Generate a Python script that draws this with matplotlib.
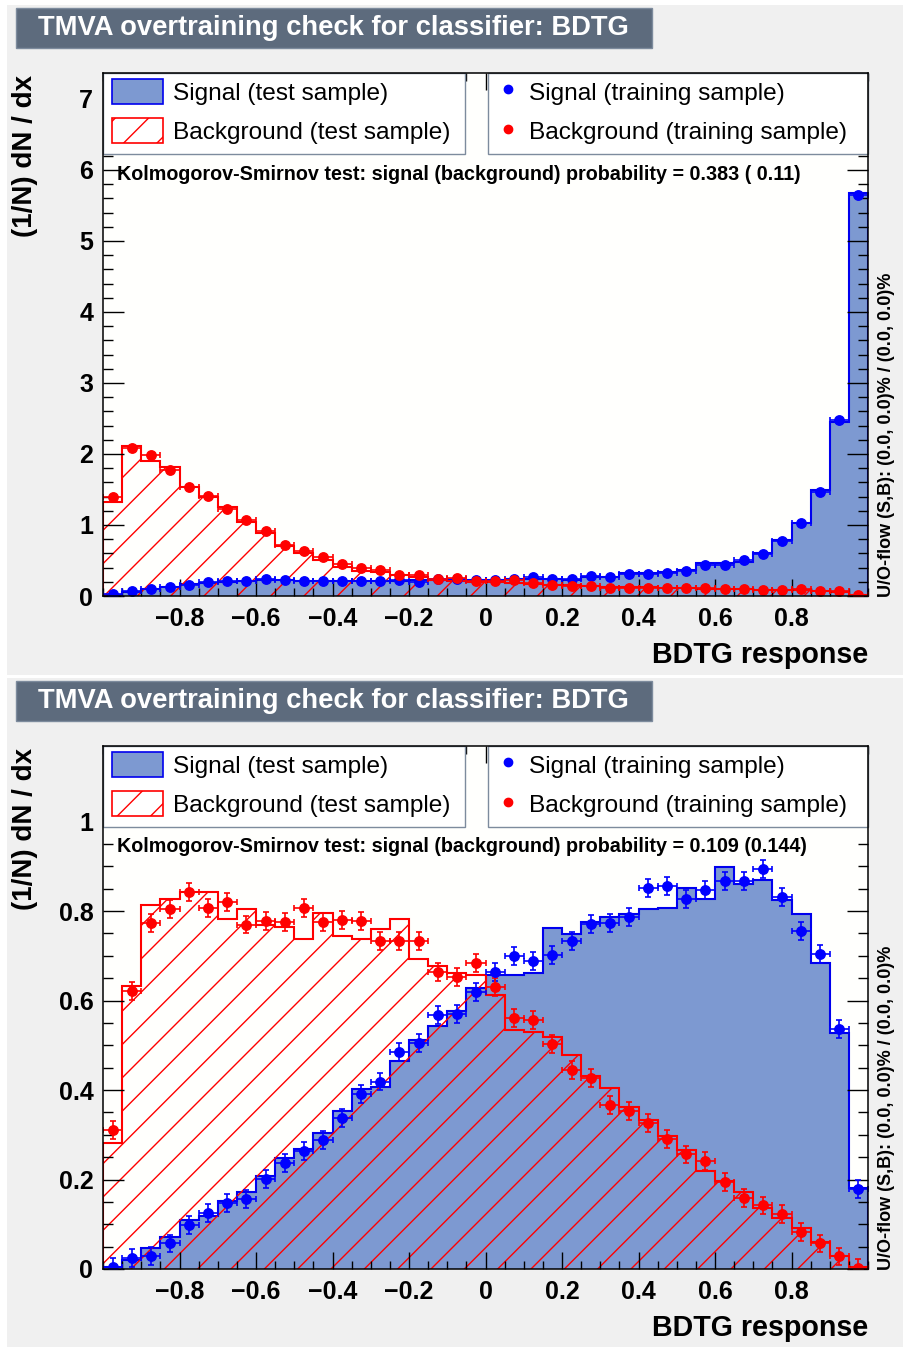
import numpy as np
import matplotlib.pyplot as plt
from matplotlib.patches import Rectangle, Patch
from matplotlib.lines import Line2D
from matplotlib.ticker import MultipleLocator, FuncFormatter

plt.rcParams['font.family'] = ['Liberation Sans', 'DejaVu Sans']
plt.rcParams['hatch.linewidth'] = 1.0

# 40 bins of BDTG response between -1 and 1
edges = np.linspace(-1, 1, 41)
centers = 0.5 * (edges[1:] + edges[:-1])

# ---- top panel: (1/N) dN/dx per bin ----
sig_test_top = [0.014, 0.060, 0.094, 0.122, 0.164, 0.188, 0.200, 0.210, 0.220, 0.220,
                0.205, 0.205, 0.205, 0.205, 0.205, 0.210, 0.220, 0.220, 0.220, 0.220,
                0.225, 0.235, 0.240, 0.240, 0.225, 0.263, 0.263, 0.329, 0.329, 0.343,
                0.366, 0.460, 0.460, 0.484, 0.610, 0.789, 1.023, 1.493, 2.455, 5.671]
bkg_test_top = [1.330, 2.110, 1.900, 1.820, 1.530, 1.390, 1.258, 1.040, 0.890, 0.710,
                0.600, 0.507, 0.413, 0.357, 0.343, 0.296, 0.272, 0.225, 0.216, 0.202,
                0.200, 0.190, 0.175, 0.160, 0.150, 0.140, 0.130, 0.125, 0.120, 0.115,
                0.110, 0.105, 0.100, 0.095, 0.090, 0.085, 0.080, 0.070, 0.060, 0.012]
sig_train_top = [0.025, 0.064, 0.094, 0.129, 0.160, 0.197, 0.210, 0.216, 0.235, 0.230,
                 0.211, 0.211, 0.211, 0.211, 0.211, 0.225, 0.200, 0.235, 0.235, 0.220,
                 0.225, 0.239, 0.263, 0.239, 0.245, 0.282, 0.268, 0.305, 0.312, 0.329,
                 0.357, 0.435, 0.437, 0.507, 0.598, 0.777, 1.033, 1.467, 2.485, 5.648]
bkg_train_top = [1.399, 2.080, 1.983, 1.772, 1.540, 1.406, 1.223, 1.070, 0.915, 0.723,
                 0.638, 0.554, 0.451, 0.395, 0.362, 0.291, 0.296, 0.235, 0.249, 0.216,
                 0.218, 0.225, 0.188, 0.155, 0.141, 0.141, 0.117, 0.117, 0.117, 0.117,
                 0.108, 0.108, 0.094, 0.099, 0.085, 0.085, 0.094, 0.075, 0.070, 0.014]
err_top = 0.02

# ---- bottom panel ----
sig_test_bot = [0.005, 0.020, 0.046, 0.071, 0.110, 0.119, 0.152, 0.173, 0.208, 0.248,
                0.268, 0.304, 0.354, 0.402, 0.407, 0.466, 0.511, 0.543, 0.576, 0.628,
                0.657, 0.658, 0.661, 0.763, 0.749, 0.776, 0.787, 0.793, 0.804, 0.806,
                0.852, 0.827, 0.899, 0.860, 0.869, 0.825, 0.793, 0.685, 0.528, 0.180]
bkg_test_bot = [0.281, 0.632, 0.813, 0.828, 0.843, 0.843, 0.783, 0.805, 0.769, 0.765,
                0.737, 0.796, 0.744, 0.738, 0.759, 0.783, 0.694, 0.677, 0.662, 0.658,
                0.612, 0.534, 0.529, 0.518, 0.478, 0.431, 0.404, 0.361, 0.333, 0.297,
                0.266, 0.218, 0.197, 0.173, 0.136, 0.113, 0.091, 0.061, 0.030, 0.005]
sig_train_bot = [0.005, 0.025, 0.030, 0.057, 0.098, 0.125, 0.147, 0.157, 0.201, 0.237,
                 0.264, 0.289, 0.337, 0.391, 0.419, 0.485, 0.505, 0.568, 0.569, 0.619,
                 0.663, 0.699, 0.688, 0.701, 0.733, 0.771, 0.774, 0.787, 0.852, 0.856,
                 0.827, 0.847, 0.867, 0.868, 0.895, 0.831, 0.755, 0.705, 0.536, 0.179]
bkg_train_bot = [0.311, 0.622, 0.774, 0.805, 0.843, 0.807, 0.820, 0.770, 0.778, 0.775,
                 0.807, 0.776, 0.781, 0.778, 0.734, 0.734, 0.733, 0.664, 0.652, 0.684,
                 0.631, 0.562, 0.556, 0.502, 0.445, 0.426, 0.366, 0.353, 0.327, 0.291,
                 0.256, 0.241, 0.194, 0.158, 0.142, 0.123, 0.083, 0.057, 0.028, 0.003]
err_bot = 0.02

title = "TMVA overtraining check for classifier: BDTG"
ks_top = "Kolmogorov-Smirnov test: signal (background) probability = 0.383 ( 0.11)"
ks_bot = "Kolmogorov-Smirnov test: signal (background) probability = 0.109 (0.144)"
uoflow = "U/O-flow (S,B): (0.0, 0.0)% / (0.0, 0.0)%"

W, H = 905, 1347
fig = plt.figure(figsize=(W / 100, H / 100), dpi=100, facecolor='white')


def fbox(x0, y0, x1, y1):
    # pixel box (measured from top-left) -> figure fraction
    return [x0 / W, 1 - y1 / H, (x1 - x0) / W, (y1 - y0) / H]


def ytick_fmt(v, pos):
    return '%g' % round(v, 3)


def panel(off, sig_test, bkg_test, sig_train, bkg_train, err, ymax, ymaj, ymin, ks):
    # canvas + title box
    l, b, w, h = fbox(7, off + 5, 903, off + 675)
    fig.add_artist(Rectangle((l, b), w, h, transform=fig.transFigure,
                             facecolor='#f0f0f0', edgecolor='none', zorder=-10))
    l, b, w, h = fbox(16, off + 8, 652, off + 48)
    fig.add_artist(Rectangle((l, b), w, h, transform=fig.transFigure,
                             facecolor='#5d6b7d', edgecolor='#7d8b9d', lw=1, zorder=-5))
    fig.text(38 / W, 1 - (off + 28) / H, title, color='white', fontsize=19.7,
             fontweight='bold', va='center', ha='left')

    ax = fig.add_axes(fbox(103, off + 73, 868, off + 596))
    ax.set_facecolor('#fffffd')

    ax.stairs(sig_test, edges, fill=True, facecolor='#7d99d1', edgecolor='none', lw=0)
    ax.stairs(sig_test, edges, baseline=0, color='#0000ee', lw=1.5)
    ax.stairs(bkg_test, edges, fill=True, facecolor='none', edgecolor='red',
              hatch='/', lw=0)
    ax.stairs(bkg_test, edges, baseline=0, color='red', lw=1.5)

    ax.errorbar(centers, sig_train, xerr=0.025, yerr=err, fmt='o', color='blue',
                ms=6.8, elinewidth=1.2, capsize=2.5, capthick=1.2)
    ax.errorbar(centers, bkg_train, xerr=0.025, yerr=err, fmt='o', color='red',
                ms=6.8, elinewidth=1.2, capsize=2.5, capthick=1.2)

    ax.set_xlim(-1, 1)
    ax.set_ylim(0, ymax)
    ax.xaxis.set_minor_locator(MultipleLocator(0.05))
    ax.yaxis.set_major_locator(MultipleLocator(ymaj))
    ax.yaxis.set_minor_locator(MultipleLocator(ymin))
    ax.yaxis.set_major_formatter(FuncFormatter(ytick_fmt))
    ax.set_xticks([-0.8, -0.6, -0.4, -0.2, 0, 0.2, 0.4, 0.6, 0.8])
    ax.set_xticklabels(['\u22120.8', '\u22120.6', '\u22120.4', '\u22120.2', '0',
                        '0.2', '0.4', '0.6', '0.8'])
    ax.tick_params(which='both', direction='in', top=True, right=True, width=1.0,
                   labelsize=18)
    ax.tick_params(axis='x', which='major', length=12, pad=8)
    ax.tick_params(axis='x', which='minor', length=6)
    ax.tick_params(axis='y', which='major', length=15, pad=7)
    ax.tick_params(axis='y', which='minor', length=7.5)
    for lab in ax.get_xticklabels() + ax.get_yticklabels():
        lab.set_fontweight('bold')
    for s in ax.spines.values():
        s.set_linewidth(1.1)

    # legend boxes
    for x0, x1 in [(103, 465), (488, 868)]:
        l, b, w, h = fbox(x0, off + 73, x1, off + 154)
        ax.add_artist(Rectangle((l, b), w, h, transform=fig.transFigure,
                                facecolor='white', edgecolor='#7d8b9d', lw=1,
                                zorder=2.2, clip_on=False))
    h1 = [Patch(facecolor='#7d99d1', edgecolor='#0000ee', lw=1.2),
          Patch(facecolor='none', edgecolor='red', hatch='/', lw=1.2)]
    leg1 = ax.legend(h1, ['Signal (test sample)', 'Background (test sample)'],
                     loc='upper left', bbox_to_anchor=(112 / W, 1 - (off + 79) / H),
                     bbox_transform=fig.transFigure, frameon=False, fontsize=17.6,
                     handlelength=2.1, handleheight=1.2, labelspacing=0.55,
                     handletextpad=0.4, borderpad=0, borderaxespad=0)
    ax.add_artist(leg1)
    h2 = [Line2D([], [], marker='o', ls='none', color='blue', ms=6),
          Line2D([], [], marker='o', ls='none', color='red', ms=6)]
    ax.legend(h2, ['Signal (training sample)', 'Background (training sample)'],
              loc='upper left', bbox_to_anchor=(497 / W, 1 - (off + 79) / H),
              bbox_transform=fig.transFigure, frameon=False, fontsize=17.6,
              handlelength=0.9, handleheight=1.2, labelspacing=0.55,
              handletextpad=0.4, borderpad=0, borderaxespad=0)

    ax.text(117 / W, 1 - (off + 174) / H, ks, transform=fig.transFigure,
            fontsize=14.2, fontweight='bold', va='center', ha='left', zorder=6)

    fig.text(868 / W, 1 - (off + 655) / H, 'BDTG response', fontsize=20.6,
             fontweight='bold', ha='right', va='center')
    fig.text(25 / W, 1 - (off + 75) / H, '(1/N) dN / dx', fontsize=20,
             fontweight='bold', ha='center', va='top', rotation=90)
    fig.text(886 / W, 1 - (off + 597) / H, uoflow, fontsize=13,
             fontweight='bold', ha='center', va='bottom', rotation=90)
    return ax


panel(0, sig_test_top, bkg_test_top, sig_train_top, bkg_train_top, err_top,
      7.366, 1, 0.2, ks_top)
panel(673, sig_test_bot, bkg_test_bot, sig_train_bot, bkg_train_bot, err_bot,
      1.169, 0.2, 0.05, ks_bot)

fig.savefig('out.png', dpi=100)
